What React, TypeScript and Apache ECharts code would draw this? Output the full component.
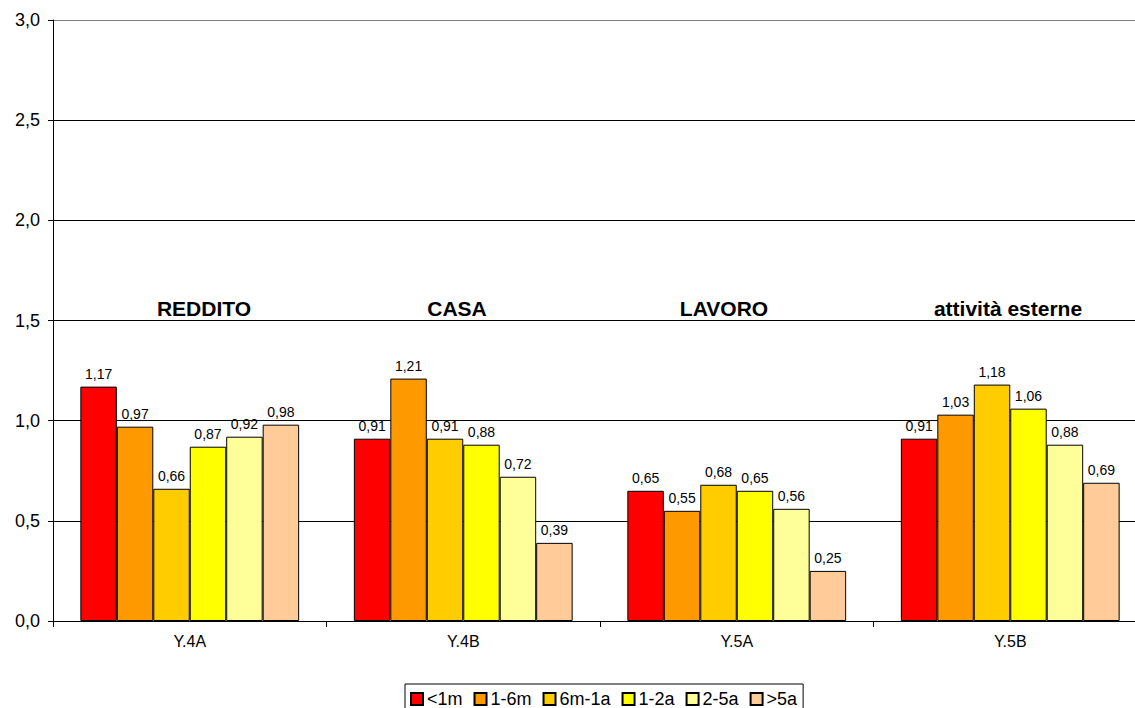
import React, { useEffect, useRef } from "react";
import * as echarts from "echarts";

const categories = ["Y.4A", "Y.4B", "Y.5A", "Y.5B"];
const seriesNames = ["<1m", "1-6m", "6m-1a", "1-2a", "2-5a", ">5a"];
const colors = ["#FF0000", "#FF9900", "#FFCC00", "#FFFF00", "#FFFF99", "#FFCC99"];
const s1m = [1.17, 0.91, 0.65, 0.91];
const s6m = [0.97, 1.21, 0.55, 1.03];
const s1a = [0.66, 0.91, 0.68, 1.18];
const s2a = [0.87, 0.88, 0.65, 1.06];
const s5a = [0.92, 0.72, 0.56, 0.88];
const sOver = [0.98, 0.39, 0.25, 0.69];
const groupTitles = ["REDDITO", "CASA", "LAVORO", "attività esterne"];
const titleX = [204, 457, 724, 1008];

const FONT = "'Liberation Sans', Arial, sans-serif";
const comma = (v: number, d: number) => v.toFixed(d).replace(".", ",");

export default function App() {
  const ref = useRef<HTMLDivElement>(null);
  useEffect(() => {
    document.body.style.margin = "0";
    const chart = echarts.init(ref.current!, null, { renderer: "svg" });
    const data = [s1m, s6m, s1a, s2a, s5a, sOver];
    chart.setOption({
      animation: false,
      backgroundColor: "#fff",
      textStyle: { fontFamily: FONT },
      grid: { left: 53, top: 20, right: 3, bottom: 87, containLabel: false },
      legend: {
        left: 405,
        top: 684,
        padding: [6, 6, 6, 5],
        borderColor: "#000",
        borderWidth: 1,
        itemWidth: 12,
        itemHeight: 12,
        itemGap: 11,
        icon: "rect",
        textStyle: { fontSize: 18, color: "#000", fontFamily: FONT, padding: [0, 0, 0, -1] },
        data: seriesNames,
      },
      xAxis: {
        type: "category",
        data: categories,
        axisLine: { lineStyle: { color: "#000", width: 1 } },
        axisTick: { show: true, length: 6, lineStyle: { color: "#000" } },
        axisLabel: { fontSize: 16, color: "#000", margin: 12, fontFamily: FONT },
      },
      yAxis: {
        type: "value",
        min: 0,
        max: 3,
        interval: 0.5,
        axisLine: { show: true, lineStyle: { color: "#000", width: 1 } },
        axisTick: { show: true, length: 5, lineStyle: { color: "#000" } },
        axisLabel: {
          fontSize: 18,
          color: "#000",
          margin: 13,
          fontFamily: FONT,
          formatter: (v: number) => comma(v, 1),
        },
        splitLine: {
          show: true,
          lineStyle: { color: ["#000", "#000", "#000", "#000", "#000", "#000", "#808080"], width: 1 },
        },
      },
      series: data.map((d, i) => ({
        name: seriesNames[i],
        type: "bar",
        data: d,
        barGap: "0%",
        barCategoryGap: "20%",
        itemStyle: { color: colors[i], borderColor: "#000", borderWidth: 1 },
        label: {
          show: true,
          position: "top",
          distance: 6,
          fontSize: 14,
          color: "#000",
          fontFamily: FONT,
          formatter: (p: any) => comma(p.value, 2),
        },
      })),
      graphic: groupTitles.map((t, i) => ({
        type: "text",
        x: titleX[i],
        y: 308,
        style: {
          text: t,
          fontSize: 21,
          fontWeight: "bold",
          fontFamily: FONT,
          fill: "#000",
          textAlign: "center",
          textVerticalAlign: "middle",
        },
      })),
    });
    return () => chart.dispose();
  }, []);
  return (
    <div style={{ width: 1135, height: 708, overflow: "hidden", position: "relative" }}>
      <div ref={ref} style={{ width: 1150, height: 708 }} />
    </div>
  );
}
